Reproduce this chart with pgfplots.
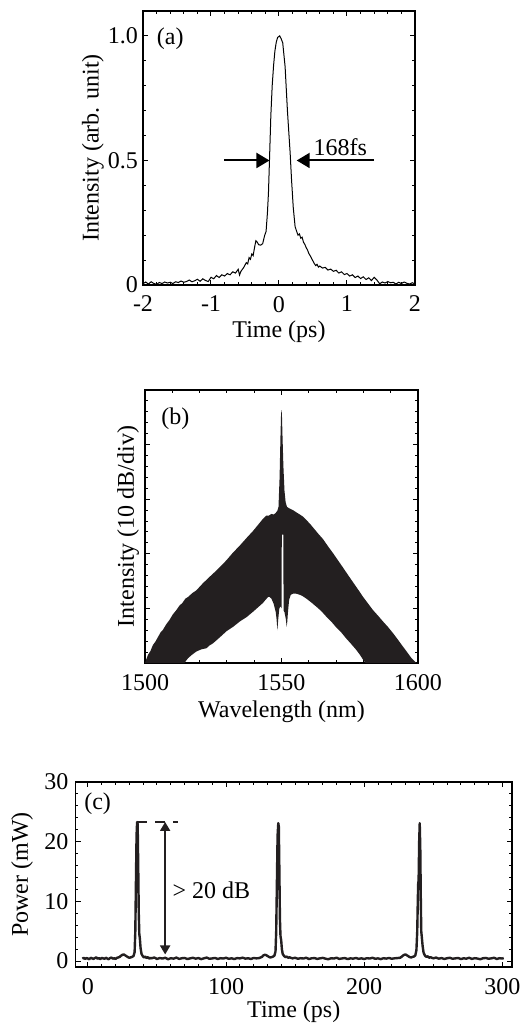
\documentclass[border=0pt]{standalone}
\usepackage{fontspec}
\setmainfont{Liberation Serif}
\usepackage{pgfplots}
\pgfplotsset{compat=1.18}
\usetikzlibrary{arrows.meta}
\definecolor{ink}{RGB}{35,31,32}

\pgfplotsset{
  panel/.style={
    scale only axis,
    anchor=south west,
    axis line style={line width=0.6pt},
    tick align=inside,
    major tick length=2.6pt,
    minor tick length=1.4pt,
    every tick/.style={line width=0.5pt, black},
    tick label style={font=\fontsize{12}{14}\selectfont},
    label style={font=\fontsize{12}{14}\selectfont},
    /pgf/number format/assume math mode=true,
    /pgf/number format/1000 sep={},
    xticklabel shift=2pt,
    clip=true,
  }
}

\begin{document}
\begin{tikzpicture}[font=\fontsize{12}{14}\selectfont]
\useasboundingbox (0,0) rectangle (262.5pt,-512.5pt);

% ---------------- (a) ----------------
\begin{axis}[panel,
  at={(71.5pt,-142.5pt)}, width=136pt, height=137pt,
  xmin=-2, xmax=2, ymin=0, ymax=1.1,
  xtick={-2,-1,0,1,2}, xticklabels={-2,-1,0,1,2},
  minor x tick num=4,
  ytick={0,0.5,1}, yticklabels={0,0.5,1.0},
  minor y tick num=4,
  yticklabel shift=-1pt,
  xlabel={Time (ps)},
  xlabel style={at={(axis description cs:0.5,-0.17)}, anchor=center},
  ylabel={Intensity (arb. unit)},
  ylabel style={at={(axis description cs:-0.184,0.5)}, anchor=center},
]
\addplot[black, line width=0.5pt] coordinates {
(-2.00,0.005) (-1.96,0.012) (-1.92,0.004) (-1.88,0.013) (-1.84,0.006) (-1.80,0.003)
(-1.76,0.010) (-1.72,0.006) (-1.68,0.012) (-1.64,0.008) (-1.60,0.011) (-1.56,0.006)
(-1.52,0.013) (-1.48,0.010) (-1.44,0.016) (-1.40,0.011) (-1.36,0.014) (-1.32,0.020)
(-1.28,0.013) (-1.24,0.017) (-1.20,0.023) (-1.16,0.015) (-1.12,0.025) (-1.08,0.018)
(-1.04,0.014) (-1.00,0.031) (-0.96,0.025) (-0.92,0.038) (-0.88,0.030) (-0.84,0.041)
(-0.80,0.036) (-0.76,0.046) (-0.72,0.041) (-0.68,0.053) (-0.64,0.048) (-0.60,0.063)
(-0.58,0.040) (-0.56,0.055) (-0.52,0.070) (-0.48,0.090) (-0.46,0.085) (-0.44,0.110)
(-0.42,0.103) (-0.40,0.125) (-0.38,0.118) (-0.36,0.150) (-0.34,0.178) (-0.32,0.172)
(-0.30,0.162) (-0.27,0.160) (-0.24,0.166) (-0.21,0.200) (-0.19,0.215) (-0.17,0.290)
(-0.155,0.370) (-0.14,0.500) (-0.12,0.680) (-0.10,0.800) (-0.08,0.880) (-0.06,0.940)
(-0.04,0.975) (-0.02,0.994) (0.01,1.000) (0.03,0.990) (0.055,0.972) (0.09,0.876)
(0.124,0.700) (0.145,0.610) (0.164,0.530) (0.185,0.420) (0.21,0.310) (0.237,0.234)
(0.26,0.215) (0.28,0.200) (0.30,0.205) (0.32,0.188) (0.34,0.192) (0.36,0.172)
(0.38,0.163) (0.40,0.150) (0.42,0.140) (0.44,0.126) (0.46,0.117) (0.48,0.106)
(0.50,0.096) (0.52,0.086) (0.54,0.078) (0.56,0.083) (0.58,0.072) (0.60,0.076)
(0.64,0.068) (0.68,0.071) (0.72,0.060) (0.76,0.064) (0.80,0.055) (0.84,0.059)
(0.88,0.048) (0.92,0.053) (0.96,0.042) (1.00,0.046) (1.04,0.036) (1.08,0.041)
(1.12,0.030) (1.16,0.036) (1.20,0.026) (1.24,0.033) (1.28,0.022) (1.32,0.029)
(1.36,0.018) (1.40,0.031) (1.44,0.020) (1.48,0.005) (1.52,0.012) (1.56,0.008)
(1.60,0.014) (1.64,0.009) (1.68,0.011) (1.72,0.004) (1.76,0.011) (1.80,0.006)
(1.84,0.012) (1.88,0.007) (1.92,0.004) (1.96,0.009) (2.00,0.005)
};
\draw[line width=1pt, -{Triangle[length=6.5pt,width=7.5pt]}] (axis cs:-0.806,0.5) -- (axis cs:-0.14,0.5);
\draw[line width=1pt, -{Triangle[length=6.5pt,width=7.5pt]}] (axis cs:1.40,0.5) -- (axis cs:0.26,0.5);
\node[anchor=base, inner sep=0pt] at (axis cs:0.90,0.52) {168fs};
\node[anchor=center, inner sep=0pt] at (axis cs:-1.60,0.99) {(a)};
\end{axis}

% ---------------- (b) ----------------
\begin{axis}[panel,
  at={(72.5pt,-331.5pt)}, width=136.5pt, height=136.5pt,
  xmin=1500, xmax=1600, ymin=0, ymax=50,
  xtick={1500,1550,1600}, minor x tick num=4,
  ytick={0,10,20,30,40,50}, yticklabels={}, minor y tick num=4,
  xlabel={Wavelength (nm)},
  xlabel style={at={(axis description cs:0.5,-0.179)}, anchor=center},
  ylabel={Intensity (10 dB/div)},
  ylabel style={at={(axis description cs:-0.062,0.5)}, anchor=center},
]
\addplot[fill=ink, draw=none] coordinates {
% upper envelope, left to right
(1500,0) (1500.2,0.3) (1501.1,1.5) (1502.0,2.2) (1502.9,3.3) (1503.8,3.9) (1504.8,4.8)
(1505.7,5.6) (1506.6,6.1) (1507.8,7.1) (1509.0,7.9) (1510.2,8.9) (1511.5,9.7)
(1512.6,10.5) (1513.7,11.0) (1514.8,11.8) (1515.8,12.1) (1517.3,12.8) (1518.8,13.3)
(1521.2,14.6) (1523.7,15.8) (1526.7,17.2) (1529.8,18.8) (1532.2,20.2) (1534.7,21.5)
(1537.2,22.9) (1539.6,24.2) (1541.4,25.3) (1543.2,26.4) (1544.4,27.0) (1545.4,27.0)
(1546.3,27.3) (1547.2,27.2) (1547.9,27.5) (1548.5,27.9) (1548.9,28.6) (1549.3,34)
(1549.6,41) (1549.85,45.8) (1550.0,46.3) (1550.15,45.6) (1550.4,41) (1550.7,36)
(1551.1,31.5) (1551.5,29.5) (1552.0,28.6) (1552.6,28.4) (1553.4,28.2) (1554.2,28.0)
(1555.4,27.6) (1556.7,27.2) (1557.9,26.8) (1559.1,26.2) (1560.6,25.4) (1562.1,24.5)
(1563.6,23.6) (1565.2,22.7) (1567.0,21.4) (1568.9,20.1) (1570.7,18.8) (1572.5,17.5)
(1574.4,16.1) (1576.2,14.8) (1578.0,13.5) (1579.9,12.1) (1581.7,10.9) (1583.5,9.7)
(1585.3,8.7) (1587.2,7.6) (1589.0,6.6) (1590.8,5.5) (1592.6,4.3) (1594.5,3.0)
(1596.0,2.0) (1597.6,0.9) (1598.6,0.4) (1599.4,0) (1600,0)
% lower envelope, right to left
(1580.8,0) (1580.3,0.3) (1579.9,0.6) (1578.6,1.6) (1577.4,2.4) (1575.5,3.5)
(1573.7,4.5) (1571.9,5.6) (1570.1,6.5) (1568.2,7.6) (1566.4,8.5) (1564.6,9.5)
(1562.8,10.3) (1560.9,11.1) (1559.1,11.8) (1557.9,12.2) (1556.7,12.5) (1555.4,12.7)
(1554.2,12.7) (1553.4,12.5) (1552.8,11.6) (1552.4,9.5) (1552.1,7.5) (1551.9,6.6)
(1551.6,8.0) (1551.1,9.3) (1550.75,9.6) (1550.7,23.5) (1550.1,23.5) (1550.05,10.0)
(1549.7,10.4) (1549.2,10.0) (1548.8,8.0) (1548.5,6.0) (1548.2,8.0) (1547.9,9.3)
(1547.1,10.9) (1546.3,11.8) (1545.6,12.1) (1545.1,12.1) (1544.2,11.6) (1543.2,11.0)
(1541.4,10.2) (1539.6,9.4) (1537.2,8.4) (1534.7,7.6) (1532.2,6.6) (1529.8,5.8)
(1527.4,4.7) (1524.9,3.6) (1523.6,3.2) (1522.5,2.7) (1520.6,2.5) (1518.8,2.1)
(1517.2,1.5) (1515.8,0.9) (1515.0,0.4) (1514.5,0)
} -- cycle;
\node[anchor=center, inner sep=0pt] at (axis cs:1511.1,44.7) {(b)};
\end{axis}

% ---------------- (c) ----------------
\begin{axis}[panel,
  at={(37.75pt,-483.5pt)}, width=218.25pt, height=92.5pt,
  xmin=-9, xmax=307, ymin=-1, ymax=30,
  xtick={0,100,200,300}, minor x tick num=9,
  ytick={0,10,20,30}, minor y tick num=4,
  xlabel={Time (ps)},
  xlabel style={at={(axis description cs:0.5,-0.243)}, anchor=center},
  ylabel={Power (mW)},
  ylabel style={at={(axis description cs:-0.1226,0.5)}, anchor=center},
]
\addplot[ink, line width=1.2pt, line join=round] coordinates {
(-4,0.40) (-3,0.55) (-2,0.35) (-1,0.50) (0,0.42) (1,0.30) (2,0.55) (3,0.45) (4,0.35)
(5,0.50) (6,0.62) (7,0.40) (8,0.48) (9,0.33) (10,0.52) (11,0.45) (12,0.38) (13,0.55)
(14,0.42) (15,0.30) (16,0.50) (17,0.58) (18,0.40) (19,0.47) (20,0.35) (21,0.55)
(22,0.60) (23,0.70) (24,0.90) (25,1.05) (26,1.10) (27,0.95) (28,0.80) (29,0.65)
(30,0.55) (31,0.62) (32,0.70) (33,0.85) (33.8,1.5) (34.3,5) (34.8,14) (35.2,21)
(35.6,23.3) (36.0,23.0) (36.4,16) (36.8,8) (37.2,4.5) (37.6,3.8) (38.1,2.2) (38.8,1.2)
(39.5,0.9) (40.5,0.6) (41.5,0.75) (42.5,0.50) (43.5,0.65) (44.5,0.40) (45.5,0.55)
(46,0.45) (48,0.60) (50,0.35) (52,0.50) (54,0.42) (56,0.55) (58,0.30) (60,0.48)
(62,0.40) (64,0.58) (66,0.36) (68,0.47) (70,0.52) (72,0.33) (74,0.45) (76,0.55)
(78,0.40) (80,0.50) (82,0.32) (84,0.46) (86,0.58) (88,0.38) (90,0.44) (92,0.52)
(94,0.35) (96,0.48) (98,0.42) (100,0.55) (102,0.37) (104,0.46) (106,0.33) (108,0.50)
(110,0.44) (112,0.57) (114,0.40) (116,0.47) (118,0.35) (120,0.52) (122,0.45) (124,0.50)
(126,0.70) (127,0.95) (128,1.05) (129,1.00) (130,0.85) (131,0.70) (132,0.60) (133,0.65)
(134,0.75) (135,0.90) (135.8,1.6) (136.3,5) (136.8,13) (137.3,21) (137.8,23.1)
(138.2,22.5) (138.6,15) (139.0,7) (139.4,4.2) (139.9,3.5) (140.4,2.0) (141,1.2)
(142,0.85) (143,0.65) (144,0.75) (145,0.55) (146,0.62) (148,0.45) (150,0.55) (152,0.38)
(154,0.48) (156,0.42) (158,0.56) (160,0.34) (162,0.46) (164,0.50) (166,0.36) (168,0.45)
(170,0.53) (172,0.40) (174,0.30) (176,0.47) (178,0.42) (180,0.55) (182,0.36) (184,0.44)
(186,0.50) (188,0.33) (190,0.45) (192,0.40) (194,0.52) (196,0.37) (198,0.46) (200,0.34)
(202,0.48) (204,0.42) (206,0.55) (208,0.38) (210,0.45) (212,0.32) (214,0.48) (216,0.41)
(218,0.52) (220,0.38) (222,0.46) (224,0.50) (226,0.55) (227,0.70) (228,0.90) (229,1.05)
(230,1.10) (231,0.95) (232,0.80) (233,0.65) (234,0.60) (235,0.70) (236,0.75) (237,0.95)
(237.8,1.8) (238.4,5) (238.8,10) (239.1,13) (239.4,13.5) (239.8,20) (240.2,23.1)
(240.6,19) (241.0,10) (241.3,5) (241.8,3.8) (242.3,2.5) (243,1.4) (244,0.9) (245,0.7)
(246,0.8) (247,0.55) (248,0.65) (250,0.45) (252,0.58) (254,0.40) (256,0.50) (258,0.35)
(260,0.47) (262,0.55) (264,0.38) (266,0.45) (268,0.52) (270,0.33) (272,0.46) (274,0.40)
(276,0.55) (278,0.36) (280,0.48) (282,0.42) (284,0.30) (286,0.47) (288,0.52) (290,0.38)
(292,0.45) (294,0.55) (296,0.35) (298,0.48) (300,0.42) (301,0.50)
};
\draw[ink, line width=1.2pt, dash pattern=on 5pt off 4pt] (axis cs:35.6,23.3) -- (axis cs:65,23.3);
\draw[ink, line width=1pt, {Triangle[length=4.5pt,width=5pt]}-{Triangle[length=4.5pt,width=5pt]}] (axis cs:55.9,23.3) -- (axis cs:55.9,1.1);
\node[anchor=west, inner sep=0pt] at (axis cs:61,11.85) {> 20 dB};
\node[anchor=center, inner sep=0pt] at (axis cs:7,26.4) {(c)};
\end{axis}
\end{tikzpicture}
\end{document}
